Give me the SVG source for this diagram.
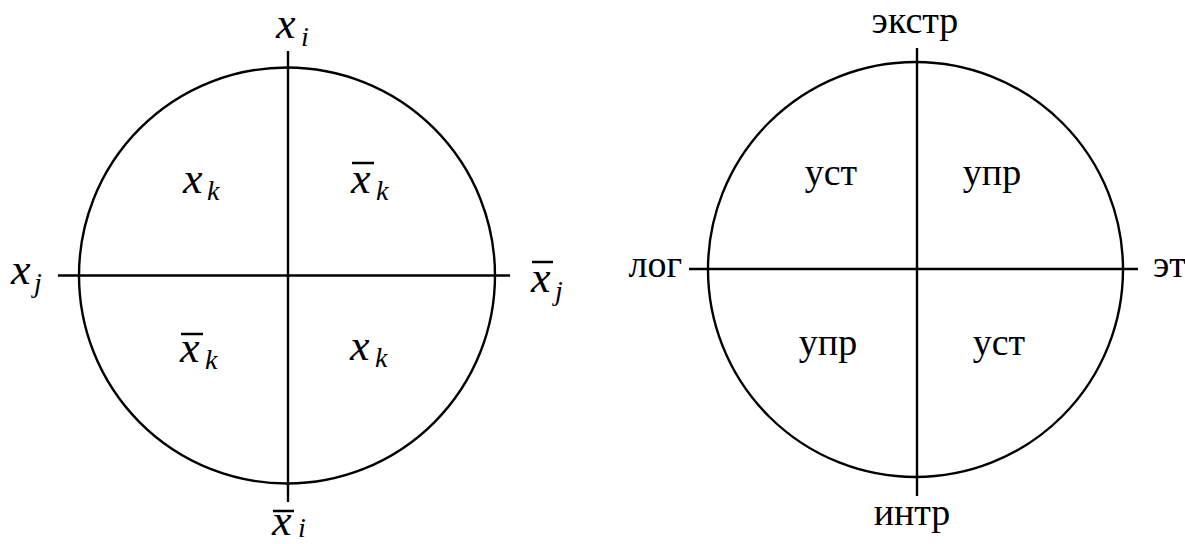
<svg xmlns="http://www.w3.org/2000/svg" width="1185" height="544" viewBox="0 0 1185 544">
<style>
.c{fill:none;stroke:#000;stroke-width:2.4}
.ax{stroke:#000;stroke-width:2.4}
.ob{stroke:#000;stroke-width:2.5}
text{font-family:'Liberation Serif','Times New Roman',serif;fill:#000}
.m{font-style:italic;font-size:44px}
.s{font-style:italic;font-size:28px}
.r{font-size:38px}
</style>
<rect width="1185" height="544" fill="#fff"/>
<g id="left-diagram">
  <g id="left-circle"><circle class="c" cx="287" cy="275.5" r="208"/></g>
  <g id="connectors-left">
    <line class="ax" x1="288" y1="51" x2="288" y2="502"/>
    <line class="ax" x1="58" y1="275.5" x2="510" y2="275.5"/>
  </g>
  <g id="label-xi"><text class="m" x="276" y="38">x</text><text class="s" x="301" y="46">i</text></g>
  <g id="label-xj"><text class="m" x="11" y="284">x</text><text class="s" x="34" y="292">j</text></g>
  <g id="label-notxj"><line class="ob" x1="532" y1="262" x2="553" y2="262"/><text class="m" x="531" y="292">x</text><text class="s" x="555" y="300">j</text></g>
  <g id="label-notxi"><line class="ob" x1="273" y1="511" x2="294" y2="511"/><text class="m" x="272" y="535">x</text><text class="s" x="298" y="537">i</text></g>
  <g id="q-tl"><text class="m" x="183" y="193">x</text><text class="s" x="207" y="200">k</text></g>
  <g id="q-tr"><line class="ob" x1="352" y1="163" x2="374" y2="163"/><text class="m" x="351" y="193">x</text><text class="s" x="376" y="200">k</text></g>
  <g id="q-bl"><line class="ob" x1="181" y1="334" x2="203" y2="334"/><text class="m" x="180" y="362">x</text><text class="s" x="205" y="369">k</text></g>
  <g id="q-br"><text class="m" x="350" y="360">x</text><text class="s" x="375" y="367">k</text></g>
</g>
<g id="right-diagram">
  <g id="right-circle"><circle class="c" cx="915.5" cy="269.5" r="207.5"/></g>
  <g id="connectors-right">
    <line class="ax" x1="917" y1="48" x2="917" y2="496"/>
    <line class="ax" x1="689" y1="269" x2="1138" y2="269"/>
  </g>
  <g id="label-ekstr"><text class="r" x="915" y="33" text-anchor="middle">экстр</text></g>
  <g id="label-intr"><text class="r" x="912" y="525" text-anchor="middle">интр</text></g>
  <g id="label-log"><text class="r" x="682" y="277" text-anchor="end">лог</text></g>
  <g id="label-et"><text class="r" x="1153" y="277">эт</text></g>
  <g id="r-tl"><text class="r" x="831" y="185" text-anchor="middle">уст</text></g>
  <g id="r-tr"><text class="r" x="992" y="185" text-anchor="middle">упр</text></g>
  <g id="r-bl"><text class="r" x="828" y="355" text-anchor="middle">упр</text></g>
  <g id="r-br"><text class="r" x="999" y="355" text-anchor="middle">уст</text></g>
</g>
</svg>
